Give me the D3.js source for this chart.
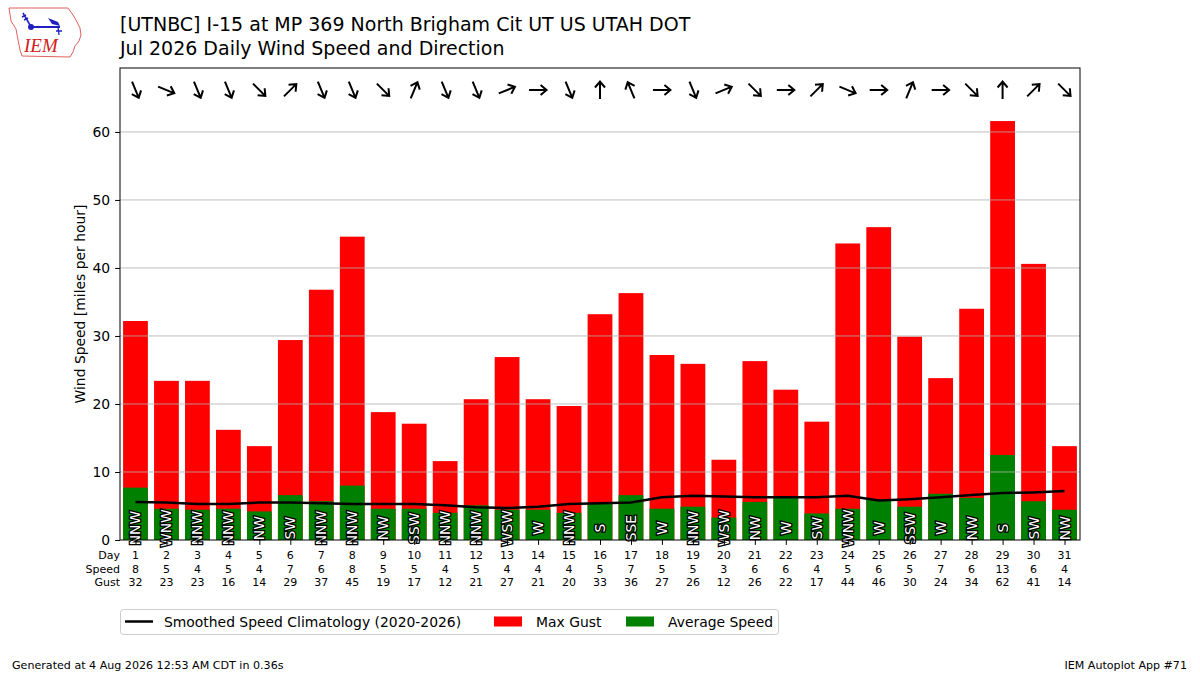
<!DOCTYPE html>
<html>
<head>
<meta charset="utf-8">
<script src="https://cdn.jsdelivr.net/npm/d3@7"></script>
<style>
  body { margin: 0; background: #fff; }
  svg { display: block; font-family: "DejaVu Sans", sans-serif; }
</style>
</head>
<body>
<svg id="chart" width="1200" height="675"></svg>
<script>
// Daily values (July 2026).
const days = d3.range(1, 32);
const avgSpeed = [7.7, 4.6, 4.45, 4.6, 4.2, 6.6, 5.7, 8.0, 4.6, 4.6, 4.0, 5.1, 4.45, 4.45, 4.0,
  5.4, 6.6, 4.6, 4.9, 3.3, 5.6, 6.3, 3.9, 4.6, 5.9, 4.9, 6.8, 6.2, 12.5, 5.7, 4.45];
const maxGust = [32.2, 23.4, 23.4, 16.2, 13.8, 29.4, 36.8, 44.6, 18.8, 17.1, 11.6, 20.7, 26.9, 20.7, 19.7,
  33.2, 36.3, 27.2, 25.9, 11.8, 26.3, 22.1, 17.4, 43.6, 46.0, 29.9, 23.8, 34.0, 61.6, 40.6, 13.8];
const climo = [5.6, 5.5, 5.3, 5.3, 5.5, 5.5, 5.4, 5.3, 5.3, 5.3, 5.1, 4.8, 4.7, 4.9, 5.3,
  5.4, 5.5, 6.3, 6.5, 6.4, 6.3, 6.3, 6.3, 6.5, 5.8, 6.0, 6.3, 6.6, 6.9, 7.0, 7.2];
const dirs = ["NNW", "WNW", "NNW", "NNW", "NW", "SW", "NNW", "NNW", "NW", "SSW", "NNW", "NNW", "WSW", "W", "NNW",
  "S", "SSE", "W", "NNW", "WSW", "NW", "W", "SW", "WNW", "W", "SSW", "W", "NW", "S", "SW", "NW"];
const compass = ["N", "NNE", "NE", "ENE", "E", "ESE", "SE", "SSE", "S", "SSW", "SW", "WSW", "W", "WNW", "NW", "NNW"];
const yTicks = [0, 10, 20, 30, 40, 50, 60];

const svg = d3.select("#chart");
const margin = { left: 120, right: 1080, top: 68, bottom: 540 };
const fs = "13.9px";

const x = d3.scaleLinear().domain([0.5, 31.5]).range([margin.left, margin.right]);
const y = d3.scaleLinear().domain([0, 69.4]).range([margin.bottom, margin.top]);
const barW = x(1.4) - x(0.6);

// Bars: max gust behind, average speed in front.
svg.append("g").selectAll("rect")
  .data(days)
  .join("rect")
  .attr("x", d => x(d) - barW / 2)
  .attr("width", barW)
  .attr("y", d => y(maxGust[d - 1]))
  .attr("height", d => y(0) - y(maxGust[d - 1]))
  .attr("fill", "#ff0000");

svg.append("g").selectAll("rect")
  .data(days)
  .join("rect")
  .attr("x", d => x(d) - barW / 2)
  .attr("width", barW)
  .attr("y", d => y(avgSpeed[d - 1]))
  .attr("height", d => y(0) - y(avgSpeed[d - 1]))
  .attr("fill", "#008000");

// Horizontal grid sits over the bars.
svg.append("g").selectAll("line")
  .data(yTicks.slice(1))
  .join("line")
  .attr("x1", margin.left).attr("x2", margin.right)
  .attr("y1", d => y(d)).attr("y2", d => y(d))
  .attr("stroke", "#b0b0b0").attr("stroke-width", 0.8);

// Smoothed climatology line.
const line = d3.line().x((d, i) => x(i + 1)).y(d => y(d));
svg.append("path")
  .datum(climo)
  .attr("d", line)
  .attr("fill", "none")
  .attr("stroke", "#000")
  .attr("stroke-width", 2.5);

// Direction text on each bar.
svg.append("g").selectAll("text")
  .data(days)
  .join("text")
  .attr("transform", d => `translate(${x(d)},${y(1.75)}) rotate(-90)`)
  .attr("text-anchor", "middle")
  .attr("dominant-baseline", "central")
  .style("font-size", fs)
  .attr("fill", "#fff")
  .attr("stroke", "#000")
  .attr("stroke-width", 2.6)
  .attr("paint-order", "stroke")
  .text(d => dirs[d - 1]);

// Arrows showing where the wind blows to.
const arrowPath = "M-9,0 L8,0 M2.5,-5 L8.5,0 L2.5,5";
svg.append("g").selectAll("path")
  .data(days)
  .join("path")
  .attr("transform", d => {
    const bearing = compass.indexOf(dirs[d - 1]) * 22.5 + 180;
    return `translate(${x(d)},${90}) rotate(${bearing - 90})`;
  })
  .attr("d", arrowPath)
  .attr("fill", "none")
  .attr("stroke", "#000")
  .attr("stroke-width", 2)
  .attr("stroke-linejoin", "miter");

// Axes.
const yAxis = d3.axisLeft(y).tickValues(yTicks).tickSize(4.9).tickPadding(5);
svg.append("g")
  .attr("transform", `translate(${margin.left},0)`)
  .call(yAxis)
  .call(g => g.select(".domain").remove())
  .call(g => g.selectAll("text").style("font-size", fs).attr("fill", "#000").style("font-family", "DejaVu Sans"));

const xAxis = d3.axisBottom(x).tickValues(days).tickSize(4.9).tickFormat("");
svg.append("g")
  .attr("transform", `translate(0,${margin.bottom})`)
  .call(xAxis)
  .call(g => g.select(".domain").remove());

svg.append("rect")
  .attr("x", margin.left).attr("y", margin.top)
  .attr("width", margin.right - margin.left)
  .attr("height", margin.bottom - margin.top)
  .attr("fill", "none").attr("stroke", "#000").attr("stroke-width", 1);

svg.append("text")
  .attr("transform", `translate(85,${(margin.top + margin.bottom) / 2}) rotate(-90)`)
  .attr("text-anchor", "middle")
  .style("font-size", fs)
  .text("Wind Speed [miles per hour]");

// Table under the axis.
const rows = [
  { name: "Day", vals: days.map(String), yy: 559 },
  { name: "Speed", vals: avgSpeed.map(v => String(Math.round(v))), yy: 572.5 },
  { name: "Gust", vals: maxGust.map(v => String(Math.round(v))), yy: 586 }
];
const table = svg.append("g").style("font-size", "11px");
rows.forEach(r => {
  table.append("text").attr("x", 120).attr("y", r.yy).attr("text-anchor", "end").text(r.name);
  table.append("g").selectAll("text")
    .data(r.vals)
    .join("text")
    .attr("x", (d, i) => x(i + 1))
    .attr("y", r.yy)
    .attr("text-anchor", "middle")
    .text(d => d);
});

// Legend.
const legend = svg.append("g");
legend.append("rect")
  .attr("x", 120.5).attr("y", 609.5).attr("width", 658).attr("height", 25)
  .attr("rx", 3).attr("fill", "#fff").attr("stroke", "#cccccc");
legend.append("line").attr("x1", 125).attr("x2", 153).attr("y1", 621.5).attr("y2", 621.5)
  .attr("stroke", "#000").attr("stroke-width", 2.5);
legend.append("text").attr("x", 164).attr("y", 626.5).style("font-size", fs)
  .text("Smoothed Speed Climatology (2020-2026)");
legend.append("rect").attr("x", 494).attr("y", 616.5).attr("width", 28).attr("height", 10).attr("fill", "#ff0000");
legend.append("text").attr("x", 536).attr("y", 626.5).style("font-size", fs).text("Max Gust");
legend.append("rect").attr("x", 626).attr("y", 616.5).attr("width", 28).attr("height", 10).attr("fill", "#008000");
legend.append("text").attr("x", 668).attr("y", 626.5).style("font-size", fs).text("Average Speed");

// Titles.
svg.append("text").attr("x", 120).attr("y", 31).style("font-size", "19px")
  .text("[UTNBC] I-15 at MP 369 North Brigham Cit UT US UTAH DOT");
svg.append("text").attr("x", 120).attr("y", 54.5).style("font-size", "19px")
  .text("Jul 2026 Daily Wind Speed and Direction");

// Footer.
svg.append("text").attr("x", 12).attr("y", 669).style("font-size", "11.1px")
  .text("Generated at 4 Aug 2026 12:53 AM CDT in 0.36s");
svg.append("text").attr("x", 1187).attr("y", 669).attr("text-anchor", "end").style("font-size", "11.1px")
  .text("IEM Autoplot App #71");

// IEM logo (rough sketch).
const logo = svg.append("g");
logo.append("path")
  .attr("d", "M9,8 L68,8 L73,15 L76,20 L80,28 L81,35 L79,41 L75,46 L73,52 L70,57 L22,56 L20,50 L18,40 L16,29 L11,21 Z")
  .attr("fill", "#fff").attr("stroke", "#e06060").attr("stroke-width", 1);
logo.append("line").attr("x1", 30).attr("y1", 27).attr("x2", 60).attr("y2", 27)
  .attr("stroke", "#2020c0").attr("stroke-width", 2);
logo.append("circle").attr("cx", 31).attr("cy", 27).attr("r", 3).attr("fill", "#2020c0");
logo.append("path").attr("d", "M23,13 L30,25 M22,17 L26,15 M24,20 L28,18")
  .attr("stroke", "#2020c0").attr("stroke-width", 1.5).attr("fill", "none");
logo.append("path").attr("d", "M48,18 L58,22 L60,26 L52,24 Z").attr("fill", "#2020c0");
logo.append("path").attr("d", "M58,27 L59,35 M56,31 L62,31").attr("stroke", "#2020c0").attr("stroke-width", 1.3);
logo.append("text").attr("x", 24).attr("y", 52)
  .style("font-family", "Liberation Serif, serif").style("font-style", "italic")
  .style("font-size", "19px").attr("fill", "#d02020").text("IEM");
</script>
</body>
</html>
